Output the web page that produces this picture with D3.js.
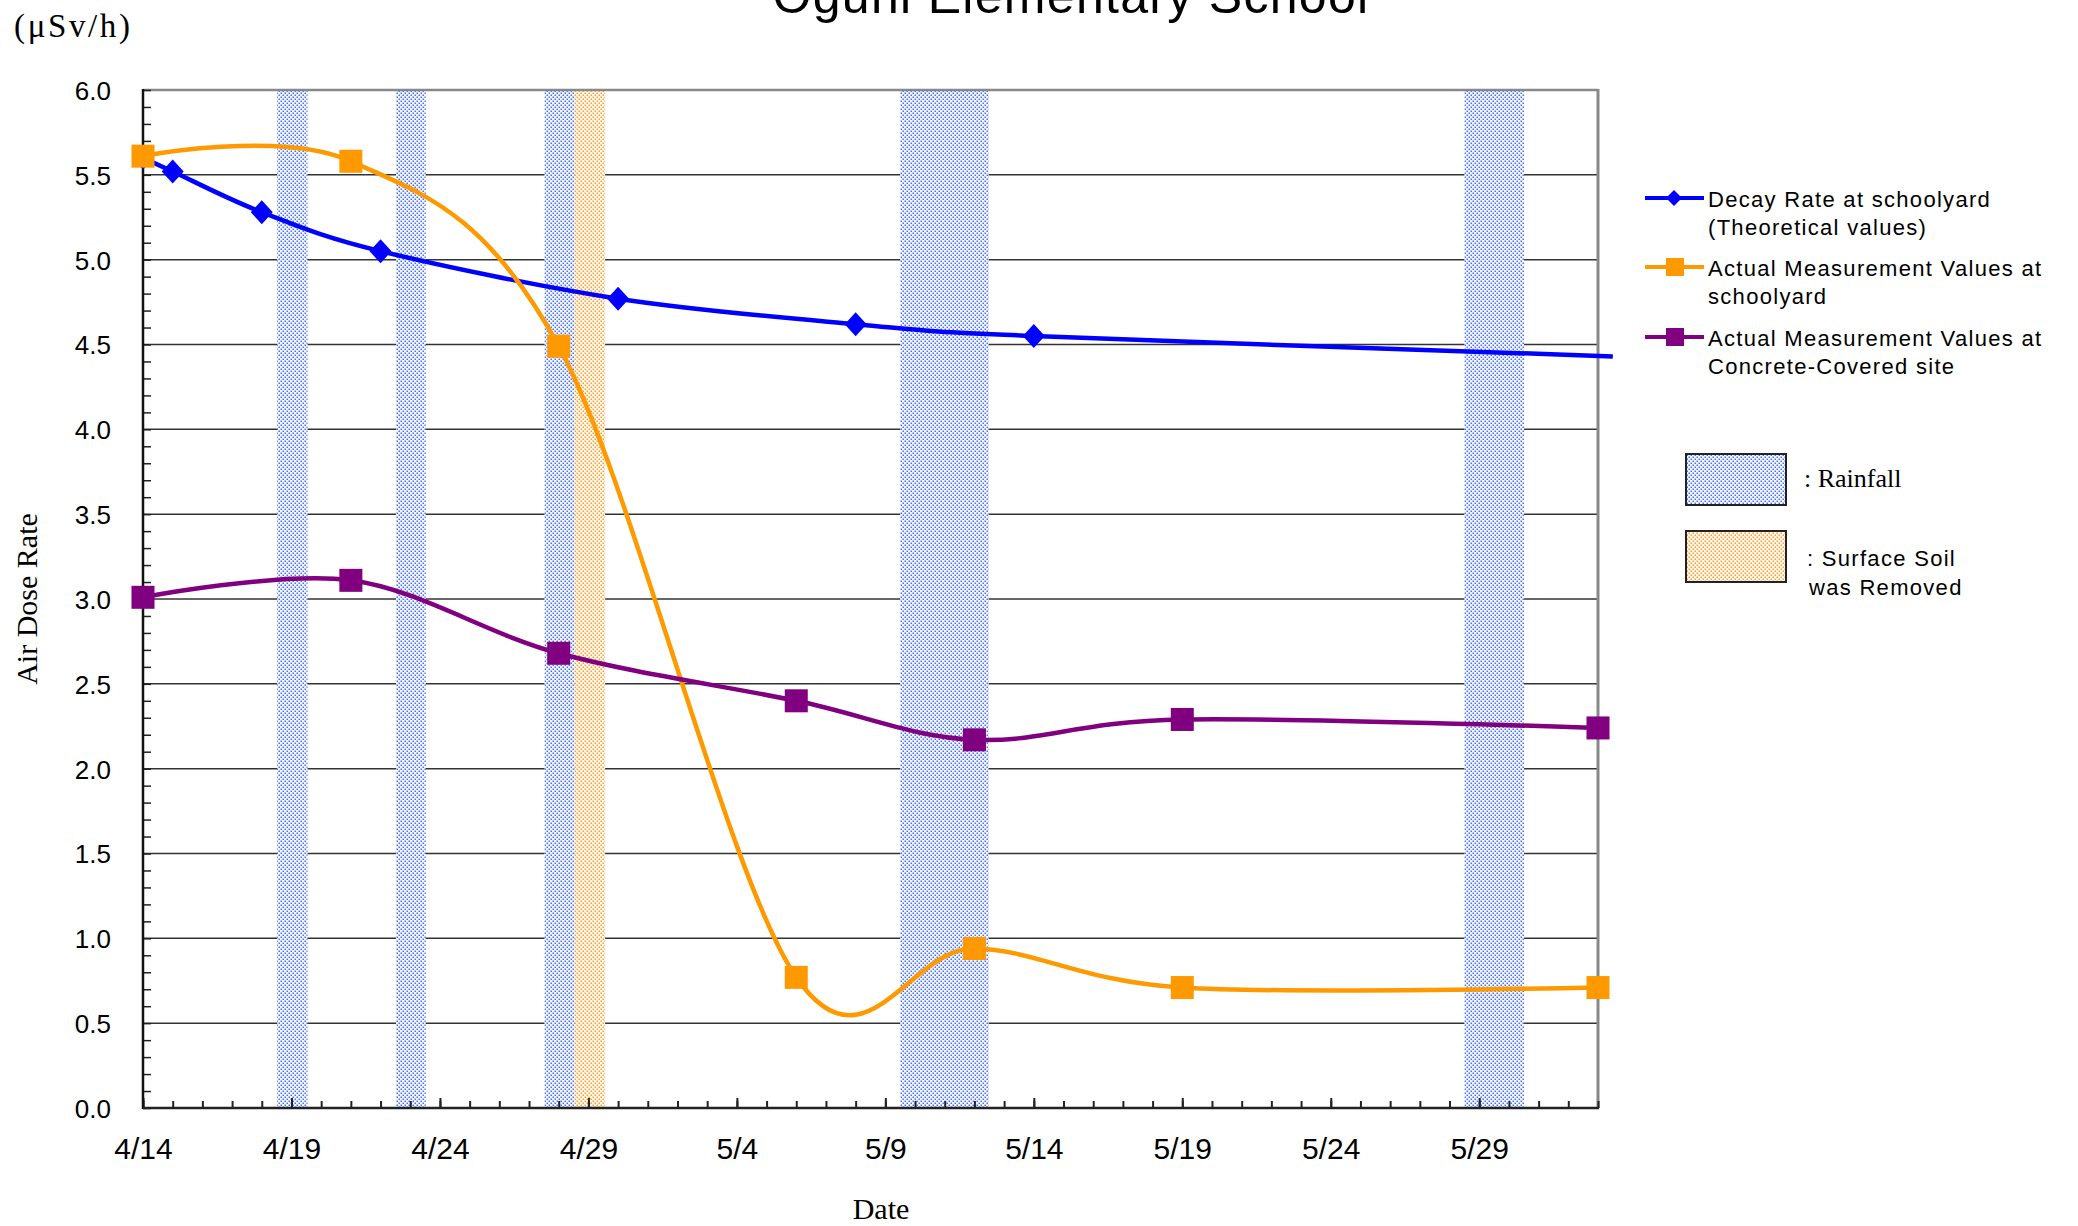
<!DOCTYPE html>
<html>
<head>
<meta charset="utf-8">
<script src="https://cdn.jsdelivr.net/npm/d3@7"></script>
<style>
  html, body { margin: 0; padding: 0; background: #ffffff; }
  svg { display: block; }
</style>
</head>
<body>
<script>
// ---------------- DATA ----------------
const title = "Oguni Elementary School";

// Decay rate at schoolyard (theoretical values)
const decayDates  = ["4/14", "4/15", "4/18", "4/22", "4/30", "5/8", "5/14", "6/2 12:00"];
const decayValues = [5.60, 5.52, 5.28, 5.05, 4.77, 4.62, 4.55, 4.43];
const decayMarkers = [true, true, true, true, true, true, true, false];

// Actual measurement values at schoolyard
const yardDates  = ["4/14", "4/21", "4/28", "5/6", "5/12", "5/19", "6/2"];
const yardValues = [5.61, 5.58, 4.49, 0.77, 0.94, 0.71, 0.71];

// Actual measurement values at concrete-covered site
const concreteDates  = ["4/14", "4/21", "4/28", "5/6", "5/12", "5/19", "6/2"];
const concreteValues = [3.01, 3.11, 2.68, 2.40, 2.17, 2.29, 2.24];

// Rainfall periods and soil-removal period [start, end]
const rainPeriods = [
  ["4/18 12:30", "4/19 13:00"],
  ["4/22 12:30", "4/23 12:30"],
  ["4/27 12:30", "4/28 12:45"],
  ["5/9 12:00",  "5/12 11:30"],
  ["5/28 12:00", "5/30 12:15"]
];
const soilPeriods = [["4/28 12:45", "4/29 13:30"]];

// Axes
const xDomain = ["4/14", "6/2"];
const xTickLabels = ["4/14", "4/19", "4/24", "4/29", "5/4", "5/9", "5/14", "5/19", "5/24", "5/29"];
const yTickValues = [0.0, 0.5, 1.0, 1.5, 2.0, 2.5, 3.0, 3.5, 4.0, 4.5, 5.0, 5.5, 6.0];
const yDomain = [0, 6];

const seriesNames = [
  ["Decay Rate at schoolyard", "(Theoretical values)"],
  ["Actual Measurement Values at", "schoolyard"],
  ["Actual Measurement Values at", "Concrete-Covered site"]
];
const rainLabel = ": Rainfall";
const soilLabel = [": Surface Soil", "was Removed"];

// ---------------- HELPERS ----------------
const fmtParse = d3.utcParse("%Y/%m/%d %H:%M");
function parseDate(s) {
  return fmtParse("2011/" + (s.indexOf(" ") >= 0 ? s : s + " 00:00"));
}

const W = 2078, H = 1226;
const plot = { left: 143, right: 1598, top: 90, bottom: 1108 };

const x = d3.scaleUtc().domain(xDomain.map(parseDate)).range([plot.left, plot.right]);
const y = d3.scaleLinear().domain(yDomain).range([plot.bottom, plot.top]);

const svg = d3.select("body").append("svg")
  .attr("width", W).attr("height", H)
  .attr("viewBox", `0 0 ${W} ${H}`);

// patterns
const defs = svg.append("defs");
function makePattern(id, color, bg) {
  const p = defs.append("pattern").attr("id", id)
    .attr("patternUnits", "userSpaceOnUse").attr("width", 4).attr("height", 4);
  p.append("rect").attr("width", 4).attr("height", 4).attr("fill", bg);
  p.append("rect").attr("x", 0.5).attr("y", 0.5).attr("width", 1.5).attr("height", 1.5).attr("fill", color);
  p.append("rect").attr("x", 2.5).attr("y", 2.5).attr("width", 1.5).attr("height", 1.5).attr("fill", color);
}
makePattern("rainPat", "#4a74ee", "#f2f5fe");
makePattern("soilPat", "#f6a030", "#fff8ee");

const sans = "'Liberation Sans', Arial, Helvetica, sans-serif";
const serif = "'Liberation Serif', 'Times New Roman', serif";

// gridlines
const gridVals = yTickValues.filter(v => v > 0 && v < 6);
svg.append("g").selectAll("line").data(gridVals).join("line")
  .attr("x1", plot.left).attr("x2", plot.right)
  .attr("y1", d => y(d)).attr("y2", d => y(d))
  .attr("stroke", "#333").attr("stroke-width", 1.5);

// bands
const bandG = svg.append("g");
function drawBands(periods, pat) {
  bandG.append("g").selectAll("rect").data(periods).join("rect")
    .attr("x", d => x(parseDate(d[0])))
    .attr("width", d => x(parseDate(d[1])) - x(parseDate(d[0])))
    .attr("y", y(yDomain[1]))
    .attr("height", y(yDomain[0]) - y(yDomain[1]))
    .attr("fill", `url(#${pat})`);
}
drawBands(rainPeriods, "rainPat");
drawBands(soilPeriods, "soilPat");

// borders (top / right gray)
svg.append("line").attr("x1", plot.left).attr("x2", plot.right)
  .attr("y1", plot.top).attr("y2", plot.top)
  .attr("stroke", "#888").attr("stroke-width", 2.5);
svg.append("line").attr("x1", plot.right).attr("x2", plot.right)
  .attr("y1", plot.top - 1).attr("y2", plot.bottom)
  .attr("stroke", "#888").attr("stroke-width", 3);

// x axis minor ticks (every day)
const [x0, x1] = x.domain();
const allDays = d3.utcDay.range(x0, d3.utcDay.offset(x1, 1));
svg.append("g").attr("transform", `translate(0,${plot.bottom})`)
  .call(d3.axisBottom(x).tickValues(allDays).tickSize(-7).tickFormat(""))
  .call(g => g.select(".domain").remove())
  .call(g => g.selectAll("line").attr("stroke", "#222").attr("stroke-width", 2));

// x axis major ticks + labels
svg.append("g").attr("transform", `translate(0,${plot.bottom})`)
  .call(d3.axisBottom(x).tickValues(xTickLabels.map(parseDate)).tickSize(-10)
    .tickFormat((d, i) => xTickLabels[i]))
  .call(g => g.select(".domain").remove())
  .call(g => g.selectAll("line").attr("stroke", "#222").attr("stroke-width", 2))
  .call(g => g.selectAll("text")
    .attr("y", 51).attr("dy", 0)
    .attr("fill", "#000")
    .style("font-family", sans).style("font-size", "30px"));

// y axis minor ticks (every 0.1)
const yMinor = d3.range(0, 61).map(i => i / 10);
svg.append("g").attr("transform", `translate(${plot.left},0)`)
  .call(d3.axisLeft(y).tickValues(yMinor).tickSize(-8).tickFormat(""))
  .call(g => g.select(".domain").remove())
  .call(g => g.selectAll("line").attr("stroke", "#222").attr("stroke-width", 1.5));

// y axis labels
svg.append("g").attr("transform", `translate(${plot.left},0)`)
  .call(d3.axisLeft(y).tickValues(yTickValues).tickSize(0).tickPadding(32)
    .tickFormat(d3.format(".1f")))
  .call(g => g.select(".domain").remove())
  .call(g => g.selectAll("text")
    .attr("fill", "#000").attr("dy", "0.36em")
    .style("font-family", sans).style("font-size", "26px"));

// main axis lines
svg.append("line").attr("x1", plot.left).attr("x2", plot.left)
  .attr("y1", plot.top - 1).attr("y2", plot.bottom + 1)
  .attr("stroke", "#111").attr("stroke-width", 2.5);
svg.append("line").attr("x1", plot.left).attr("x2", plot.right + 1)
  .attr("y1", plot.bottom).attr("y2", plot.bottom)
  .attr("stroke", "#222").attr("stroke-width", 2.5);

// series
const line = d3.line().x(d => x(d.date)).y(d => y(d.v)).curve(d3.curveCardinal.tension(0));

function toPts(dates, vals) {
  return dates.map((d, i) => ({ date: parseDate(d), v: vals[i] }));
}
const decayPts = toPts(decayDates, decayValues);
const yardPts = toPts(yardDates, yardValues);
const concretePts = toPts(concreteDates, concreteValues);

const diamond = "M0,-12L11,0L0,12L-11,0Z";

function drawSeries(pts, color, marker, markFlags) {
  const g = svg.append("g");
  g.append("path").datum(pts).attr("d", line)
    .attr("fill", "none").attr("stroke", color).attr("stroke-width", 4.5)
    .attr("stroke-linejoin", "round");
  const mp = markFlags ? pts.filter((d, i) => markFlags[i]) : pts;
  if (marker === "diamond") {
    g.selectAll("path.m").data(mp).join("path").attr("class", "m")
      .attr("d", diamond)
      .attr("transform", d => `translate(${x(d.date)},${y(d.v)})`)
      .attr("fill", color);
  } else {
    g.selectAll("rect").data(mp).join("rect")
      .attr("x", d => x(d.date) - 11.5).attr("y", d => y(d.v) - 11.5)
      .attr("width", 23).attr("height", 23)
      .attr("fill", color);
  }
}
drawSeries(decayPts, "#0000ff", "diamond", decayMarkers);
drawSeries(yardPts, "#ff9900", "square");
drawSeries(concretePts, "#800080", "square");

// title
svg.append("text").attr("x", 1071).attr("y", 13)
  .attr("text-anchor", "middle")
  .style("font-family", sans).style("font-size", "50px").style("letter-spacing", "1.3px")
  .text(title);

// unit label
svg.append("text").attr("x", 14).attr("y", 37)
  .attr("textLength", 116).attr("lengthAdjust", "spacing")
  .style("font-family", serif).style("font-size", "33px")
  .text("(μSv/h)");

// y axis title
svg.append("text")
  .attr("transform", "translate(37,599) rotate(-90)")
  .attr("text-anchor", "middle")
  .style("font-family", serif).style("font-size", "30px")
  .text("Air Dose Rate");

// x axis title
svg.append("text").attr("x", 881).attr("y", 1219)
  .attr("text-anchor", "middle")
  .style("font-family", serif).style("font-size", "30px")
  .text("Date");

// legend
const legColors = ["#0000ff", "#ff9900", "#800080"];
const legMarkers = ["diamond", "square", "square"];
const legY = [198, 267, 337];
const lg = svg.append("g");
legColors.forEach((c, i) => {
  const ly = legY[i];
  lg.append("line").attr("x1", 1645).attr("x2", 1704).attr("y1", ly).attr("y2", ly)
    .attr("stroke", c).attr("stroke-width", 4);
  if (legMarkers[i] === "diamond") {
    lg.append("path").attr("d", "M0,-8L8,0L0,8L-8,0Z")
      .attr("transform", `translate(1674,${ly})`).attr("fill", c);
  } else {
    lg.append("rect").attr("x", 1666).attr("y", ly - 9).attr("width", 18).attr("height", 18)
      .attr("fill", c);
  }
  const t = lg.append("text")
    .style("font-family", sans).style("font-size", "22px").style("letter-spacing", "1.3px");
  seriesNames[i].forEach((s, j) => {
    t.append("tspan").attr("x", 1708).attr("y", ly + 9 + j * 28).text(s);
  });
});

// band legend
lg.append("rect").attr("x", 1686).attr("y", 454).attr("width", 100).attr("height", 51)
  .attr("fill", "url(#rainPat)").attr("stroke", "#222").attr("stroke-width", 2);
lg.append("rect").attr("x", 1686).attr("y", 531).attr("width", 100).attr("height", 51)
  .attr("fill", "url(#soilPat)").attr("stroke", "#222").attr("stroke-width", 2);
lg.append("text").attr("x", 1804).attr("y", 487)
  .style("font-family", serif).style("font-size", "26px")
  .text(rainLabel);
const st = lg.append("text")
  .style("font-family", sans).style("font-size", "22px").style("letter-spacing", "1.3px");
soilLabel.forEach((s, j) => {
  st.append("tspan").attr("x", j === 0 ? 1807 : 1809).attr("y", 566 + j * 29).text(s);
});
</script>
</body>
</html>
